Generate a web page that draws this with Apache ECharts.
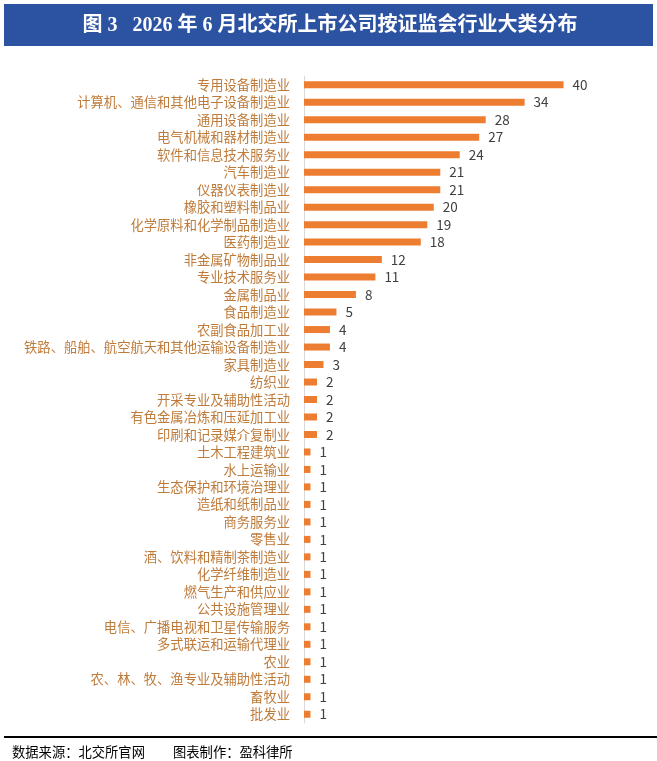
<!DOCTYPE html>
<html>
<head>
<meta charset="utf-8">
<script src="https://cdn.jsdelivr.net/npm/echarts@6/dist/echarts.min.js"></script>
<style>
  html, body { margin: 0; padding: 0; background: #fff; }
  #chart { width: 657px; height: 761px; }
</style>
</head>
<body>
<div id="chart"></div>
<script>
var titleText = '图 3   2026 年 6 月北交所上市公司按证监会行业大类分布';
var sourceText = '数据来源：北交所官网';
var makerText = '图表制作：盈科律所';

var categories = [
  '专用设备制造业', '计算机、通信和其他电子设备制造业', '通用设备制造业', '电气机械和器材制造业',
  '软件和信息技术服务业', '汽车制造业', '仪器仪表制造业', '橡胶和塑料制品业',
  '化学原料和化学制品制造业', '医药制造业', '非金属矿物制品业', '专业技术服务业',
  '金属制品业', '食品制造业', '农副食品加工业', '铁路、船舶、航空航天和其他运输设备制造业',
  '家具制造业', '纺织业', '开采专业及辅助性活动', '有色金属冶炼和压延加工业',
  '印刷和记录媒介复制业', '土木工程建筑业', '水上运输业', '生态保护和环境治理业',
  '造纸和纸制品业', '商务服务业', '零售业', '酒、饮料和精制茶制造业',
  '化学纤维制造业', '燃气生产和供应业', '公共设施管理业', '电信、广播电视和卫星传输服务',
  '多式联运和运输代理业', '农业', '农、林、牧、渔专业及辅助性活动', '畜牧业', '批发业'
];
var counts = [40, 34, 28, 27, 24, 21, 21, 20, 19, 18, 12, 11, 8, 5, 4, 4, 3, 2, 2, 2, 2,
  1, 1, 1, 1, 1, 1, 1, 1, 1, 1, 1, 1, 1, 1, 1, 1];

var cjk = '"Noto Sans CJK SC", "Noto Sans", sans-serif';

var myChart = echarts.init(document.getElementById('chart'));

myChart.setOption({
  animation: false,
  grid: {
    left: 304,
    right: 61,
    top: 76,
    bottom: 38
  },
  xAxis: {
    type: 'value',
    min: 0,
    max: 45,
    show: false
  },
  yAxis: {
    type: 'category',
    inverse: true,
    data: categories,
    axisTick: {show: false},
    axisLine: {
      show: true,
      lineStyle: {color: '#D9D9D9', width: 1}
    },
    axisLabel: {
      interval: 0,
      margin: 14,
      fontSize: 13.3,
      fontFamily: cjk,
      color: '#BF7B3A'
    }
  },
  series: [{
    type: 'bar',
    data: counts,
    barWidth: 7,
    itemStyle: {color: '#ED7D31'},
    label: {
      show: true,
      position: 'right',
      distance: 9,
      fontSize: 13.5,
      fontFamily: cjk,
      color: '#404040'
    }
  }],
  graphic: [
    {
      type: 'rect',
      shape: {x: 4, y: 4, width: 649, height: 42},
      style: {fill: '#2C52A2'}
    },
    {
      type: 'text',
      x: 330,
      y: 26,
      style: {
        text: titleText,
        fill: '#fff',
        font: 'bold 20px "Liberation Serif", "Noto Sans CJK SC", serif',
        textAlign: 'center',
        textVerticalAlign: 'middle'
      }
    },
    {
      type: 'rect',
      shape: {x: 4, y: 736, width: 653, height: 2},
      style: {fill: '#000'}
    },
    {
      type: 'text',
      x: 12,
      y: 752,
      style: {
        text: sourceText,
        fill: '#000',
        font: '13.3px "Noto Sans CJK SC", sans-serif',
        textVerticalAlign: 'middle'
      }
    },
    {
      type: 'text',
      x: 173,
      y: 752,
      style: {
        text: makerText,
        fill: '#000',
        font: '13.3px "Noto Sans CJK SC", sans-serif',
        textVerticalAlign: 'middle'
      }
    }
  ]
});
</script>
</body>
</html>
